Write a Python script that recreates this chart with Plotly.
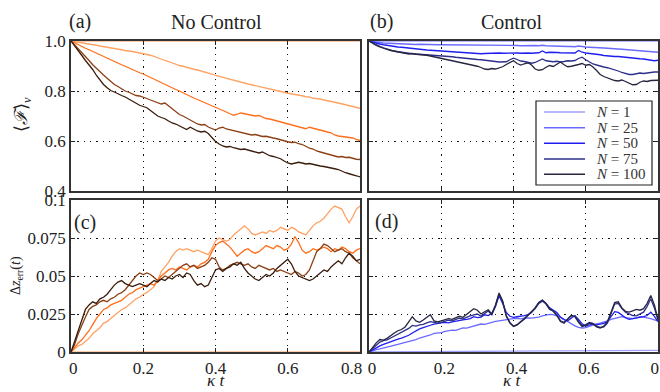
import plotly.graph_objects as go

# ---------------- data ----------------
t = [round(i * 0.01, 2) for i in range(81)]
t_coarse = [0, 0.1, 0.2, 0.3, 0.4, 0.5, 0.6, 0.7, 0.8]
labels = ["N = 1", "N = 25", "N = 50", "N = 75", "N = 100"]

# (a) fidelity, no control
a_n1 = [1.0] * 9
a_n25 = [1.000,0.998,0.995,0.993,0.990,0.988,0.985,0.983,0.980,0.978,0.976,0.973,0.970,0.968,0.965,0.962,0.961,0.958,0.955,0.953,
         0.950,0.946,0.943,0.937,0.933,0.928,0.922,0.918,0.912,0.907,0.902,0.899,0.894,0.890,0.887,0.884,0.880,0.878,0.873,0.868,
         0.862,0.858,0.853,0.851,0.846,0.843,0.838,0.835,0.831,0.828,0.825,0.822,0.819,0.815,0.811,0.808,0.806,0.801,0.798,0.795,
         0.791,0.789,0.787,0.784,0.781,0.777,0.776,0.771,0.770,0.768,0.764,0.760,0.756,0.755,0.752,0.748,0.745,0.741,0.737,0.733,0.731]
a_n50 = [1.000,0.992,0.985,0.978,0.971,0.965,0.958,0.951,0.945,0.938,0.931,0.924,0.918,0.912,0.905,0.899,0.892,0.888,0.880,0.873,
         0.868,0.861,0.852,0.846,0.838,0.831,0.825,0.818,0.812,0.806,0.800,0.792,0.786,0.779,0.772,0.766,0.760,0.755,0.748,0.742,
         0.736,0.729,0.722,0.716,0.709,0.703,0.707,0.712,0.709,0.705,0.704,0.700,0.702,0.695,0.690,0.688,0.684,0.683,0.678,0.674,
         0.670,0.667,0.661,0.657,0.652,0.649,0.655,0.651,0.645,0.643,0.640,0.636,0.633,0.624,0.620,0.618,0.619,0.614,0.612,0.606,0.602]
a_n75 = [1.000,0.985,0.968,0.953,0.936,0.922,0.905,0.890,0.878,0.864,0.851,0.838,0.826,0.818,0.808,0.800,0.795,0.787,0.782,0.780,
         0.776,0.770,0.764,0.758,0.754,0.748,0.752,0.740,0.728,0.715,0.706,0.700,0.692,0.683,0.676,0.668,0.664,0.666,0.656,0.650,
         0.644,0.652,0.655,0.648,0.645,0.641,0.639,0.635,0.632,0.628,0.624,0.626,0.621,0.618,0.619,0.614,0.612,0.609,0.604,0.600,
         0.597,0.594,0.595,0.589,0.586,0.579,0.571,0.568,0.560,0.556,0.552,0.548,0.542,0.538,0.536,0.538,0.534,0.535,0.530,0.527,0.526]
a_n100 = [1.000,0.982,0.963,0.942,0.922,0.905,0.886,0.863,0.843,0.826,0.813,0.802,0.796,0.788,0.782,0.776,0.768,0.758,0.750,0.743,
          0.738,0.733,0.722,0.710,0.700,0.694,0.689,0.680,0.672,0.668,0.660,0.652,0.646,0.655,0.646,0.640,0.636,0.639,0.630,0.614,
          0.598,0.588,0.580,0.576,0.578,0.573,0.570,0.566,0.568,0.564,0.560,0.555,0.552,0.556,0.547,0.541,0.538,0.535,0.529,0.520,
          0.512,0.508,0.512,0.515,0.512,0.508,0.510,0.506,0.502,0.500,0.498,0.496,0.493,0.489,0.486,0.478,0.473,0.469,0.466,0.461,0.456]

# (b) fidelity, control
b_n1 = [1.0] * 9
b_n25 = [1.000,0.997,0.995,0.994,0.992,0.991,0.990,0.989,0.989,0.988,0.988,0.987,0.987,0.986,0.987,0.986,0.986,0.985,0.986,0.985,
         0.985,0.985,0.984,0.985,0.984,0.984,0.984,0.983,0.984,0.984,0.983,0.983,0.984,0.983,0.982,0.983,0.983,0.982,0.983,0.982,
         0.982,0.982,0.981,0.982,0.981,0.981,0.982,0.981,0.983,0.981,0.980,0.980,0.979,0.980,0.979,0.978,0.978,0.977,0.980,0.977,
         0.976,0.975,0.975,0.974,0.973,0.972,0.971,0.971,0.969,0.968,0.967,0.966,0.965,0.963,0.962,0.961,0.960,0.958,0.957,0.956,0.955]
b_n50 = [1.000,0.995,0.991,0.988,0.985,0.982,0.980,0.978,0.976,0.975,0.973,0.972,0.970,0.969,0.967,0.966,0.964,0.963,0.962,0.960,
         0.959,0.958,0.957,0.956,0.955,0.954,0.953,0.952,0.951,0.950,0.949,0.949,0.950,0.951,0.950,0.951,0.952,0.951,0.952,0.951,
         0.952,0.952,0.951,0.953,0.952,0.951,0.952,0.953,0.960,0.953,0.955,0.956,0.954,0.953,0.952,0.953,0.951,0.952,0.962,0.955,
         0.952,0.951,0.949,0.947,0.945,0.942,0.940,0.939,0.938,0.938,0.936,0.935,0.933,0.931,0.929,0.929,0.928,0.926,0.925,0.921,0.923]
b_n75 = [1.000,0.992,0.985,0.979,0.973,0.968,0.963,0.960,0.957,0.954,0.952,0.951,0.949,0.948,0.947,0.947,0.946,0.945,0.945,0.944,
         0.943,0.941,0.939,0.937,0.935,0.933,0.932,0.930,0.929,0.928,0.926,0.925,0.924,0.922,0.919,0.918,0.916,0.915,0.917,0.925,
         0.931,0.926,0.920,0.918,0.914,0.911,0.914,0.920,0.928,0.921,0.918,0.917,0.919,0.916,0.918,0.921,0.920,0.922,0.930,0.935,
         0.925,0.916,0.908,0.904,0.899,0.896,0.893,0.889,0.886,0.880,0.874,0.869,0.866,0.866,0.868,0.872,0.870,0.873,0.874,0.876,0.876]
b_n100 = [1.000,0.990,0.982,0.976,0.970,0.966,0.962,0.960,0.958,0.955,0.951,0.948,0.950,0.947,0.946,0.945,0.943,0.940,0.937,0.935,
          0.932,0.928,0.925,0.923,0.918,0.915,0.912,0.909,0.905,0.903,0.899,0.894,0.888,0.886,0.890,0.888,0.893,0.897,0.906,0.915,
          0.921,0.910,0.904,0.909,0.913,0.904,0.888,0.883,0.885,0.895,0.902,0.898,0.907,0.916,0.905,0.897,0.899,0.904,0.906,0.910,
          0.903,0.906,0.896,0.882,0.866,0.858,0.852,0.845,0.842,0.840,0.844,0.838,0.831,0.825,0.826,0.835,0.840,0.838,0.842,0.844,0.843]

# (c) error, no control
c_n1 = [0.0] * 9
c_n25 = [0.000,0.002,0.004,0.005,0.007,0.009,0.012,0.014,0.016,0.019,0.020,0.022,0.024,0.026,0.028,0.029,0.031,0.033,0.035,0.036,
         0.038,0.039,0.041,0.043,0.047,0.053,0.056,0.059,0.063,0.066,0.068,0.067,0.068,0.067,0.066,0.067,0.066,0.065,0.064,0.068,
         0.073,0.075,0.074,0.073,0.074,0.077,0.079,0.081,0.083,0.081,0.078,0.077,0.078,0.079,0.078,0.080,0.079,0.080,0.082,0.081,
         0.080,0.082,0.081,0.079,0.078,0.077,0.080,0.083,0.085,0.086,0.088,0.091,0.094,0.096,0.095,0.094,0.089,0.085,0.089,0.094,0.096]
c_n50 = [0.000,0.003,0.006,0.008,0.011,0.014,0.018,0.022,0.025,0.028,0.029,0.031,0.032,0.033,0.034,0.036,0.038,0.039,0.041,0.042,
         0.043,0.044,0.045,0.044,0.047,0.050,0.052,0.054,0.055,0.054,0.056,0.055,0.054,0.056,0.057,0.056,0.058,0.059,0.061,0.066,
         0.070,0.072,0.073,0.071,0.069,0.066,0.063,0.065,0.067,0.068,0.066,0.065,0.066,0.068,0.070,0.069,0.068,0.070,0.069,0.067,
         0.068,0.071,0.076,0.072,0.067,0.065,0.066,0.068,0.067,0.068,0.069,0.068,0.066,0.068,0.067,0.069,0.068,0.066,0.065,0.067,0.068]
c_n75 = [0.000,0.005,0.012,0.018,0.023,0.028,0.030,0.031,0.033,0.034,0.033,0.035,0.036,0.038,0.039,0.041,0.044,0.047,0.050,0.052,
         0.051,0.052,0.051,0.049,0.047,0.048,0.050,0.049,0.051,0.053,0.055,0.057,0.058,0.056,0.057,0.055,0.056,0.057,0.059,0.062,
         0.061,0.056,0.054,0.055,0.057,0.058,0.059,0.058,0.057,0.058,0.056,0.055,0.057,0.056,0.055,0.054,0.055,0.053,0.054,0.053,
         0.052,0.051,0.053,0.052,0.050,0.051,0.054,0.060,0.066,0.068,0.071,0.070,0.068,0.066,0.067,0.068,0.066,0.065,0.062,0.060,0.058]
c_n100 = [0.000,0.007,0.015,0.022,0.028,0.031,0.033,0.032,0.035,0.036,0.038,0.041,0.044,0.046,0.047,0.045,0.044,0.043,0.044,0.045,
          0.044,0.043,0.045,0.047,0.046,0.048,0.047,0.049,0.048,0.050,0.051,0.049,0.052,0.051,0.047,0.044,0.045,0.043,0.044,0.049,
          0.054,0.055,0.053,0.055,0.056,0.058,0.057,0.059,0.055,0.052,0.050,0.048,0.047,0.049,0.051,0.050,0.052,0.055,0.057,0.059,
          0.061,0.058,0.053,0.050,0.049,0.048,0.047,0.048,0.050,0.052,0.054,0.053,0.056,0.058,0.060,0.058,0.062,0.065,0.063,0.060,0.061]

# (d) error, control
d_n1 = [0.0, 0.0002, 0.0003, 0.0004, 0.0005, 0.0006, 0.0008, 0.0010, 0.0011]
d_n25 = [0.000,0.001,0.0015,0.002,0.0025,0.003,0.0037,0.0042,0.005,0.0057,0.0063,0.0068,0.0078,0.0082,0.0092,0.0098,0.0105,0.0112,0.0122,0.0123,
         0.0128,0.0135,0.0138,0.0144,0.0142,0.0150,0.0158,0.0157,0.0165,0.0170,0.0178,0.0184,0.0182,0.0190,0.0196,0.0201,0.0205,0.0210,0.0212,0.0216,
         0.0220,0.0222,0.0218,0.0222,0.0225,0.0223,0.0226,0.0230,0.0238,0.0245,0.0248,0.0246,0.0238,0.0228,0.0215,0.0200,0.0185,0.0172,0.0162,0.0158,
         0.0160,0.0168,0.0180,0.0185,0.0190,0.0196,0.0205,0.0215,0.0222,0.0230,0.0232,0.0226,0.0222,0.0220,0.0225,0.0232,0.0230,0.0226,0.0220,0.0212,0.0204]
d_n50 = [0.000,0.0015,0.003,0.004,0.005,0.006,0.0068,0.0075,0.0085,0.0092,0.010,0.011,0.0125,0.0140,0.0152,0.0160,0.0170,0.0176,0.0184,0.0190,
         0.0192,0.0195,0.0192,0.0198,0.0204,0.0208,0.0212,0.0215,0.0220,0.0232,0.0226,0.0230,0.0245,0.0240,0.0255,0.0300,0.0370,0.0320,0.0260,0.0235,
         0.0228,0.0232,0.0238,0.0240,0.0245,0.0260,0.0290,0.0325,0.0340,0.0320,0.0290,0.0275,0.0260,0.0230,0.0212,0.0205,0.0225,0.0240,0.0215,0.0185,
         0.0170,0.0180,0.0185,0.0178,0.0182,0.0188,0.0200,0.0235,0.0265,0.0260,0.0240,0.0225,0.0215,0.0218,0.0222,0.0225,0.0232,0.0240,0.0262,0.0235,0.0200]
d_n75 = [0.000,0.002,0.004,0.0065,0.0075,0.008,0.0092,0.0105,0.0118,0.0130,0.0140,0.0155,0.0175,0.0170,0.0178,0.0182,0.0192,0.0200,0.0195,0.0190,
         0.0195,0.0205,0.0210,0.0205,0.0215,0.0222,0.0218,0.0230,0.0238,0.0245,0.0250,0.0235,0.0255,0.0270,0.0245,0.0300,0.0380,0.0330,0.0240,0.0195,
         0.0170,0.0180,0.0200,0.0215,0.0240,0.0265,0.0285,0.0320,0.0335,0.0315,0.0280,0.0270,0.0245,0.0205,0.0195,0.0215,0.0238,0.0235,0.0200,0.0172,
         0.0180,0.0195,0.0188,0.0170,0.0162,0.0165,0.0190,0.0250,0.0315,0.0320,0.0285,0.0262,0.0250,0.0240,0.0238,0.0250,0.0262,0.0300,0.0350,0.0290,0.0210]
d_n100 = [0.000,0.003,0.006,0.0082,0.0078,0.0090,0.0110,0.0125,0.0140,0.0148,0.0165,0.0195,0.0232,0.0205,0.0195,0.0210,0.0225,0.0245,0.0205,0.0198,
          0.0205,0.0212,0.0220,0.0215,0.0225,0.0235,0.0228,0.0245,0.0262,0.0285,0.0275,0.0250,0.0265,0.0278,0.0250,0.0310,0.0388,0.0335,0.0235,0.0190,
          0.0168,0.0178,0.0198,0.0220,0.0245,0.0270,0.0290,0.0325,0.0342,0.0320,0.0285,0.0268,0.0240,0.0200,0.0190,0.0218,0.0242,0.0232,0.0195,0.0168,
          0.0175,0.0190,0.0185,0.0165,0.0158,0.0170,0.0200,0.0262,0.0325,0.0330,0.0290,0.0268,0.0262,0.0270,0.0280,0.0275,0.0285,0.0320,0.0372,0.0310,0.0215]

fid_ticks = [0.4, 0.6, 0.8, 1.0]
fid_ticklabels = ["0.4", "0.6", "0.8", "1.0"]
err_ticks = [0, 0.025, 0.05, 0.075, 0.1]
err_ticklabels = ["0", "0.025", "0.05", "0.075", "0.1"]
time_ticks = [0, 0.2, 0.4, 0.6, 0.8]
time_ticklabels = ["0", "0.2", "0.4", "0.6", "0.8"]

# ---------------- styles ----------------
orange = ["#FFB88A", "#FFA264", "#FF6E1A", "#8C3F14", "#3A1C0C"]
blue = ["#A0A0FF", "#6A6AFF", "#1E1EF0", "#2E2E8C", "#262640"]
FONT = "Liberation Serif"
NB = "\u00a0"
W, H = 660, 392

def px(x):
    return x / W

def py(y):
    return 1 - y / H

fig = go.Figure()

def add(xv, yv, color, xa, ya):
    fig.add_trace(go.Scatter(x=xv, y=yv, mode="lines", line=dict(color=color, width=1.3),
                             xaxis=xa, yaxis=ya, showlegend=False))

series_a = [a_n1, a_n25, a_n50, a_n75, a_n100]
series_b = [b_n1, b_n25, b_n50, b_n75, b_n100]
series_c = [c_n1, c_n25, c_n50, c_n75, c_n100]
series_d = [d_n1, d_n25, d_n50, d_n75, d_n100]
xs = [t_coarse, t, t, t, t]
for xv, yv, c in zip(xs, series_a, orange):
    add(xv, yv, c, "x", "y")
for xv, yv, c in zip(xs, series_b, blue):
    add(xv, yv, c, "x2", "y2")
for xv, yv, c in zip(xs, series_c, orange):
    add(xv, yv, c, "x3", "y3")
for xv, yv, c in zip(xs, series_d, blue):
    add(xv, yv, c, "x4", "y4")

L = [px(71), px(360)]
R = [px(369), px(658)]
T = [py(191), py(41)]
B = [py(352), py(200)]

axcommon = dict(showline=True, linecolor="#333333", linewidth=1.5, mirror="ticks",
                ticks="inside", ticklen=4, tickcolor="#222222", tickwidth=1,
                showgrid=True, gridcolor="#111111", griddash="1.3px,5px", gridwidth=1.2,
                zeroline=False, automargin=False, ticklabeloverflow="allow",
                tickfont=dict(family=FONT, size=17, color="#222"))

# end labels offset as in the original figure
c_time_text = [NB + time_ticklabels[0]] + time_ticklabels[1:4] + [time_ticklabels[4] + NB * 4]

xr = [0, 0.8]
fig.update_layout(
    width=W, height=H, margin=dict(l=0, r=0, t=0, b=0, autoexpand=False),
    plot_bgcolor="white", paper_bgcolor="white",
    font=dict(family=FONT, color="#222"),
    showlegend=False,
    xaxis=dict(domain=L, range=xr, anchor="y", tickvals=time_ticks, showticklabels=False, **axcommon),
    yaxis=dict(domain=T, range=[0.4, 1.0], anchor="x", tickvals=fid_ticks, ticktext=fid_ticklabels, **axcommon),
    xaxis2=dict(domain=R, range=xr, anchor="y2", tickvals=time_ticks, showticklabels=False, **axcommon),
    yaxis2=dict(domain=T, range=[0.4, 1.0], anchor="x2", tickvals=fid_ticks, showticklabels=False, **axcommon),
    xaxis3=dict(domain=L, range=xr, anchor="y3", tickvals=time_ticks, ticktext=c_time_text, **axcommon),
    yaxis3=dict(domain=B, range=[0, 0.1], anchor="x3", tickvals=err_ticks, ticktext=err_ticklabels, **axcommon),
    xaxis4=dict(domain=R, range=xr, anchor="y4", tickvals=time_ticks, ticktext=time_ticklabels,
                ticklabelshift=3, **axcommon),
    yaxis4=dict(domain=B, range=[0, 0.1], anchor="x4", tickvals=err_ticks, showticklabels=False, **axcommon),
)

ann = [
    (80, 21, "(a)", 20, "middle"),
    (216, 22, "No Control", 20, "middle"),
    (381, 21, "(b)", 20, "middle"),
    (512, 22, "Control", 20, "middle"),
    (85, 222, "(c)", 20, "middle"),
    (386, 221, "(d)", 20, "middle"),
    (216, 392, "<i>κ t</i>", 17, "bottom"),
    (512, 392, "<i>κ t</i>", 17, "bottom"),
]
for x, y, text, size, ya in ann:
    fig.add_annotation(x=px(x), y=py(y), xref="paper", yref="paper", text=text,
                       showarrow=False, font=dict(family=FONT, size=size, color="#222"),
                       xanchor="center", yanchor=ya)

fig.add_annotation(x=px(22), y=py(115), xref="paper", yref="paper",
                   text="⟨<i>ℱ</i>⟩<sub><i>ν</i></sub>", textangle=-90, showarrow=False,
                   font=dict(family=FONT, size=18, color="#222"), xanchor="center", yanchor="middle")
fig.add_annotation(x=px(16), y=py(276), xref="paper", yref="paper",
                   text="Δ<i>z</i><sub>err</sub>(<i>t</i>)", textangle=-90, showarrow=False,
                   font=dict(family=FONT, size=14, color="#222"), xanchor="center", yanchor="middle")

# legend box for panel (b)
fig.add_shape(type="rect", xref="paper", yref="paper", x0=px(536), x1=px(652), y0=py(185), y1=py(101),
              line=dict(color="#222", width=1.2), fillcolor="white", layer="above")
leg_y = [112, 127.7, 143.3, 159, 174.3]
for yy, c, lab in zip(leg_y, blue, labels):
    n, v = lab.split(" = ")
    fig.add_shape(type="line", xref="paper", yref="paper", x0=px(544), x1=px(585), y0=py(yy), y1=py(yy),
                  line=dict(color=c, width=1.5), layer="above")
    fig.add_annotation(x=px(594), y=py(yy), xref="paper", yref="paper", text="<i>N</i> = " + v,
                       showarrow=False, font=dict(family=FONT, size=15, color="#333"),
                       xanchor="left", yanchor="middle")

fig.write_html("out.html", config={"displayModeBar": False},
               post_script="document.body.style.margin='0';document.body.style.overflow='hidden';")
